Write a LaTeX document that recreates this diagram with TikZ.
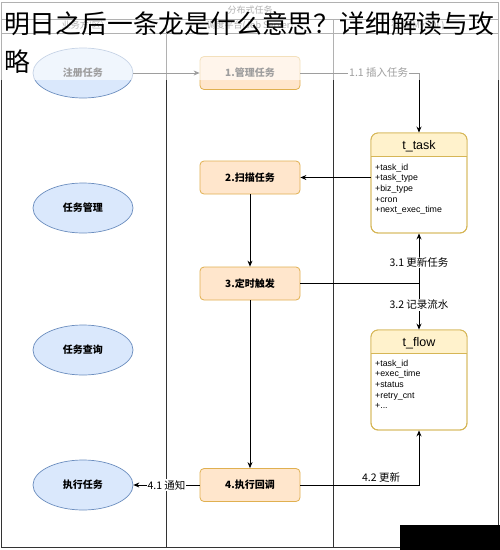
\documentclass[tikz,border=0pt]{standalone}
\usepackage{fontspec}
\setmainfont{Noto Sans CJK SC}
\newfontfamily\latinsans{Liberation Sans}
\usetikzlibrary{arrows.meta,shapes.geometric}
\definecolor{elfill}{HTML}{DAE8FC}
\definecolor{elline}{HTML}{6C8EBF}
\definecolor{bxfill}{HTML}{FFE6CC}
\definecolor{bxline}{HTML}{E0B050}
\definecolor{tbhead}{HTML}{FFF2CC}
\definecolor{tbline}{HTML}{D6B656}
\definecolor{lane}{HTML}{333333}
\begin{document}
\begin{tikzpicture}[x=1pt,y=-1pt,
 lanestyle/.style={draw=lane,line width=0.9pt},
 usecase/.style={ellipse,draw=elline,fill=elfill,line width=0.7pt,minimum width=100pt,minimum height=50pt,inner sep=0pt,font=\bfseries\fontsize{10}{12}\selectfont},
 stepbox/.style={rectangle,rounded corners=4pt,draw=bxline,line width=0.8pt,fill=bxfill,minimum width=100pt,minimum height=33pt,inner sep=0pt,font=\bfseries\fontsize{10}{12}\selectfont},
 tblbox/.style={rectangle,rounded corners=7pt,draw=tbline,line width=0.9pt,minimum width=96pt,minimum height=100pt,inner sep=0pt},
 tbltitle/.style={font=\latinsans\fontsize{12.5}{14}\selectfont,inner sep=0pt},
 tblfields/.style={anchor=north west,align=left,inner sep=0pt,font=\latinsans\fontsize{8.8}{10.7}\selectfont},
 conn/.style={draw=black,line width=0.8pt,-{Stealth[length=6pt,width=5pt]}},
 lbl/.style={fill=white,inner sep=1pt,font=\fontsize{10.5}{12}\selectfont},
 hdr/.style={text=lane,font=\fontsize{9}{11}\selectfont,inner sep=0pt}
]
\useasboundingbox (0,0) rectangle (500,550);
\fill[white] (0,0) rectangle (500,550);
% swimlane frame
\draw[lanestyle] (1,2) rectangle (498,547);
\draw[lanestyle] (1,19) -- (498,19);
\draw[lanestyle] (1,33) -- (498,33);
\draw[lanestyle] (166,19) -- (166,547);
\draw[lanestyle] (333,19) -- (333,547);
\node[hdr] (hdrall) at (250,10) {分布式任务};
\node[hdr] (hdra) at (83,26) {业务方(区)};
\node[hdr] (hdrb) at (250,26) {调度平台(Job Server)};
\node[hdr] (hdrc) at (418,26) {存储(MySQL)};
% use cases
\node[usecase] (reg) at (83,73) {注册任务};
\node[usecase] (mgr) at (83,208) {任务管理};
\node[usecase] (qry) at (83,350) {任务查询};
\node[usecase] (exe) at (83,485) {执行任务};
% steps
\node[stepbox] (s1) at (250,73) {1.管理任务};
\node[stepbox] (s2) at (250,177.5) {2.扫描任务};
\node[stepbox] (s3) at (250,283.5) {3.定时触发};
\node[stepbox] (s4) at (250,485) {4.执行回调};
% tables
\node[tblbox,fill=white] (ttask) at (419,183) {};
\begin{scope}
\clip[rounded corners=7pt] (371,133) rectangle (467,233);
\fill[tbhead] (371,133) rectangle (467,156);
\end{scope}
\draw[tbline,line width=0.9pt,rounded corners=7pt] (371,133) rectangle (467,233);
\draw[tbline,line width=0.9pt] (371,156) -- (467,156);
\node[tbltitle] (ttasktitle) at (419,146) {t\_task};
\node[tblfields] (ttaskf) at (375,163.5) {+task\_id\\+task\_type\\+biz\_type\\+cron\\+next\_exec\_time};

\node[tblbox,fill=white] (tflow) at (419,380) {};
\begin{scope}
\clip[rounded corners=7pt] (371,330) rectangle (467,430);
\fill[tbhead] (371,330) rectangle (467,353);
\end{scope}
\draw[tbline,line width=0.9pt,rounded corners=7pt] (371,330) rectangle (467,430);
\draw[tbline,line width=0.9pt] (371,353) -- (467,353);
\node[tbltitle] (tflowtitle) at (419,343) {t\_flow};
\node[tblfields] (tflowf) at (375,359.5) {+task\_id\\+exec\_time\\+status\\+retry\_cnt\\+...};
% connectors
\draw[conn] (reg) -- (s1);
\draw[conn] (s1.east) -| node[lbl,pos=0.33] (l11) {1.1 插入任务} (ttask.north);
\draw[conn] (ttask.west |- s2.east) -- (s2.east);
\draw[conn] (s2) -- (s3);
\draw[conn] (s3) -- (s4);
\draw[conn] (s3.east) -| node[lbl,pos=0.71] (l31) {3.1 更新任务} (ttask.south);
\draw[conn] (s3.east) -| node[lbl,pos=0.73] (l32) {3.2 记录流水} (tflow.north);
\draw[conn] (s4.west) -- node[lbl,pos=0.5] (l41) {4.1 通知} (exe.east);
\draw[conn] (s4.east) -| node[pos=0.34,above=1pt,inner sep=1pt,font=\fontsize{10.5}{12}\selectfont] (l42) {4.2 更新} (tflow.south);
% fade overlay at top
\fill[white,opacity=0.62] (0,0) rectangle (500,80);
% black block bottom right
\fill[black] (400,525) rectangle (500,550);
% title overlay
\node[anchor=west,inner sep=0pt,font=\fontsize{25.8}{30}\selectfont] (title1) at (4,24) {明日之后一条龙是什么意思？详细解读与攻};
\node[anchor=west,inner sep=0pt,font=\fontsize{25.8}{30}\selectfont] (title2) at (4,62) {略};
\end{tikzpicture}
\end{document}
